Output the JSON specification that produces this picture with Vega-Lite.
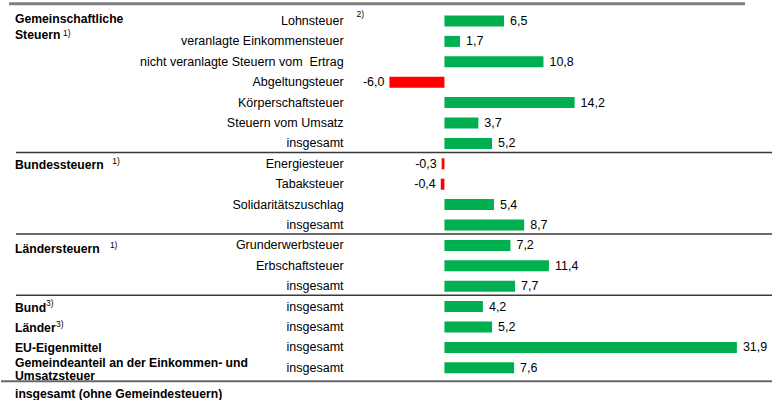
{
  "$schema": "https://vega.github.io/schema/vega-lite/v6.json",
  "width": 778,
  "height": 400,
  "autosize": {"type": "fit", "contains": "padding"},
  "padding": 0,
  "background": "white",
  "config": {
    "view": {"stroke": null},
    "text": {"font": "Liberation Sans", "fontSize": 12, "color": "#000000"}
  },
  "datasets": {
    "rows": [
      {"key": "Gemeinschaftliche Steuern – Lohnsteuer", "item": "Lohnsteuer", "value": 6.5, "label": "6,5"},
      {"key": "Gemeinschaftliche Steuern – veranlagte Einkommensteuer", "item": "veranlagte Einkommensteuer", "value": 1.7, "label": "1,7"},
      {"key": "Gemeinschaftliche Steuern – nicht veranlagte Steuern vom Ertrag", "item": "nicht veranlagte Steuern vom\u00a0 Ertrag", "value": 10.8, "label": "10,8"},
      {"key": "Gemeinschaftliche Steuern – Abgeltungsteuer", "item": "Abgeltungsteuer", "value": -6.0, "label": "-6,0"},
      {"key": "Gemeinschaftliche Steuern – Körperschaftsteuer", "item": "Körperschaftsteuer", "value": 14.2, "label": "14,2"},
      {"key": "Gemeinschaftliche Steuern – Steuern vom Umsatz", "item": "Steuern vom Umsatz", "value": 3.7, "label": "3,7"},
      {"key": "Gemeinschaftliche Steuern – insgesamt", "item": "insgesamt", "value": 5.2, "label": "5,2"},
      {"key": "Bundessteuern – Energiesteuer", "item": "Energiesteuer", "value": -0.3, "label": "-0,3"},
      {"key": "Bundessteuern – Tabaksteuer", "item": "Tabaksteuer", "value": -0.4, "label": "-0,4"},
      {"key": "Bundessteuern – Solidaritätszuschlag", "item": "Solidaritätszuschlag", "value": 5.4, "label": "5,4"},
      {"key": "Bundessteuern – insgesamt", "item": "insgesamt", "value": 8.7, "label": "8,7"},
      {"key": "Ländersteuern – Grunderwerbsteuer", "item": "Grunderwerbsteuer", "value": 7.2, "label": "7,2"},
      {"key": "Ländersteuern – Erbschaftsteuer", "item": "Erbschaftsteuer", "value": 11.4, "label": "11,4"},
      {"key": "Ländersteuern – insgesamt", "item": "insgesamt", "value": 7.7, "label": "7,7"},
      {"key": "Bund – insgesamt", "item": "insgesamt", "value": 4.2, "label": "4,2"},
      {"key": "Länder – insgesamt", "item": "insgesamt", "value": 5.2, "label": "5,2"},
      {"key": "EU-Eigenmittel – insgesamt", "item": "insgesamt", "value": 31.9, "label": "31,9"},
      {"key": "Gemeindeanteil – insgesamt", "item": "insgesamt", "value": 7.6, "label": "7,6"}
    ]
  },
  "layer": [
    {
      "data": {"name": "rows"},
      "mark": {"type": "bar", "height": {"band": 0.54}},
      "encoding": {
        "y": {
          "field": "key", "type": "nominal", "sort": null, "axis": null,
          "scale": {
            "domain": [
              "Gemeinschaftliche Steuern – Lohnsteuer",
              "Gemeinschaftliche Steuern – veranlagte Einkommensteuer",
              "Gemeinschaftliche Steuern – nicht veranlagte Steuern vom Ertrag",
              "Gemeinschaftliche Steuern – Abgeltungsteuer",
              "Gemeinschaftliche Steuern – Körperschaftsteuer",
              "Gemeinschaftliche Steuern – Steuern vom Umsatz",
              "Gemeinschaftliche Steuern – insgesamt",
              "Bundessteuern – Energiesteuer",
              "Bundessteuern – Tabaksteuer",
              "Bundessteuern – Solidaritätszuschlag",
              "Bundessteuern – insgesamt",
              "Ländersteuern – Grunderwerbsteuer",
              "Ländersteuern – Erbschaftsteuer",
              "Ländersteuern – insgesamt",
              "Bund – insgesamt",
              "Länder – insgesamt",
              "EU-Eigenmittel – insgesamt",
              "Gemeindeanteil – insgesamt",
              "insgesamt (ohne Gemeindesteuern)"
            ],
            "range": [10.8, 398.4], "paddingInner": 0, "paddingOuter": 0
          }
        },
        "x": {"field": "value", "type": "quantitative", "axis": null, "scale": {"domain": [-48.366, 36.383], "nice": false, "zero": false}},
        "x2": {"datum": 0},
        "color": {"condition": {"test": "datum.value < 0", "value": "#ff0000"}, "value": "#00b050"}
      }
    },
    {
      "data": {"name": "rows"},
      "mark": {"type": "text", "align": "right", "baseline": "middle", "font": "Liberation Sans", "fontSize": 12.5},
      "encoding": {
        "y": {"field": "key", "type": "nominal", "sort": null, "axis": null},
        "x": {"datum": -11.0, "type": "quantitative"},
        "text": {"field": "item"}
      }
    },
    {
      "data": {"name": "rows"},
      "transform": [{"filter": "datum.value >= 0"}],
      "mark": {"type": "text", "align": "left", "baseline": "middle", "dx": 6, "font": "Liberation Sans", "fontSize": 12.5},
      "encoding": {
        "y": {"field": "key", "type": "nominal", "sort": null, "axis": null},
        "x": {"field": "value", "type": "quantitative"},
        "text": {"field": "label"}
      }
    },
    {
      "data": {"name": "rows"},
      "transform": [{"filter": "datum.value < 0"}],
      "mark": {"type": "text", "align": "right", "baseline": "middle", "dx": -5, "font": "Liberation Sans", "fontSize": 12.5},
      "encoding": {
        "y": {"field": "key", "type": "nominal", "sort": null, "axis": null},
        "x": {"field": "value", "type": "quantitative"},
        "text": {"field": "label"}
      }
    },
    {
      "data": {"values": [
        {"key": "Bundessteuern – Energiesteuer", "label": "Bundessteuern"},
        {"key": "Bund – insgesamt", "label": "Bund"},
        {"key": "Länder – insgesamt", "label": "Länder"},
        {"key": "EU-Eigenmittel – insgesamt", "label": "EU-Eigenmittel"}
      ]},
      "mark": {"type": "text", "align": "left", "baseline": "middle", "dy": 1, "font": "Liberation Sans", "fontWeight": "bold", "fontSize": 12.2},
      "encoding": {
        "y": {"field": "key", "type": "nominal", "sort": null, "axis": null},
        "x": {"datum": -46.84, "type": "quantitative"},
        "text": {"field": "label"}
      }
    },
    {
      "data": {"values": [{"key": "Ländersteuern – Grunderwerbsteuer", "label": "Ländersteuern"}]},
      "mark": {"type": "text", "align": "left", "baseline": "middle", "dy": 3.5, "font": "Liberation Sans", "fontWeight": "bold", "fontSize": 12.2},
      "encoding": {
        "y": {"field": "key", "type": "nominal", "sort": null, "axis": null},
        "x": {"datum": -46.84, "type": "quantitative"},
        "text": {"field": "label"}
      }
    },
    {
      "data": {"values": [{"key": "Gemeinschaftliche Steuern – Lohnsteuer", "label": "Gemeinschaftliche\nSteuern"}]},
      "mark": {"type": "text", "align": "left", "baseline": "middle", "dy": -2.3, "lineBreak": "\n", "lineHeight": 16.5, "font": "Liberation Sans", "fontWeight": "bold", "fontSize": 12.2},
      "encoding": {
        "y": {"field": "key", "type": "nominal", "sort": null, "axis": null},
        "x": {"datum": -46.84, "type": "quantitative"},
        "text": {"field": "label"}
      }
    },
    {
      "data": {"values": [{"key": "Gemeindeanteil – insgesamt", "label": "Gemeindeanteil an der Einkommen- und\nUmsatzsteuer"}]},
      "mark": {"type": "text", "align": "left", "baseline": "middle", "dy": -4.9, "lineBreak": "\n", "lineHeight": 12.8, "font": "Liberation Sans", "fontWeight": "bold", "fontSize": 12.2},
      "encoding": {
        "y": {"field": "key", "type": "nominal", "sort": null, "axis": null},
        "x": {"datum": -46.84, "type": "quantitative"},
        "text": {"field": "label"}
      }
    },
    {
      "data": {"values": [{"key": "insgesamt (ohne Gemeindesteuern)", "label": "insgesamt (ohne Gemeindesteuern)"}]},
      "mark": {"type": "text", "align": "left", "baseline": "middle", "dy": 6, "font": "Liberation Sans", "fontWeight": "bold", "fontSize": 12.2},
      "encoding": {
        "y": {"field": "key", "type": "nominal", "sort": null, "axis": null},
        "x": {"datum": -46.84, "type": "quantitative"},
        "text": {"field": "label"}
      }
    },
    {
      "data": {"values": [{"key": "Gemeinschaftliche Steuern – Lohnsteuer", "t": "2)"}]},
      "mark": {"type": "text", "align": "left", "baseline": "middle", "dy": -7, "fontSize": 8.5, "font": "Liberation Sans"},
      "encoding": {
        "y": {"field": "key", "type": "nominal", "sort": null, "axis": null},
        "x": {"datum": -9.59, "type": "quantitative"},
        "text": {"field": "t"}
      }
    },
    {
      "data": {"values": [{"key": "Gemeinschaftliche Steuern – veranlagte Einkommensteuer", "t": "1)"}]},
      "mark": {"type": "text", "align": "left", "baseline": "middle", "dy": -8.5, "fontSize": 8.5, "font": "Liberation Sans"},
      "encoding": {
        "y": {"field": "key", "type": "nominal", "sort": null, "axis": null},
        "x": {"datum": -41.6, "type": "quantitative"},
        "text": {"field": "t"}
      }
    },
    {
      "data": {"values": [{"key": "Bundessteuern – Energiesteuer", "t": "1)"}]},
      "mark": {"type": "text", "align": "left", "baseline": "middle", "dy": -3, "fontSize": 8.5, "font": "Liberation Sans"},
      "encoding": {
        "y": {"field": "key", "type": "nominal", "sort": null, "axis": null},
        "x": {"datum": -36.22, "type": "quantitative"},
        "text": {"field": "t"}
      }
    },
    {
      "data": {"values": [{"key": "Ländersteuern – Grunderwerbsteuer", "t": "1)"}]},
      "mark": {"type": "text", "align": "left", "baseline": "middle", "dy": -0.5, "fontSize": 8.5, "font": "Liberation Sans"},
      "encoding": {
        "y": {"field": "key", "type": "nominal", "sort": null, "axis": null},
        "x": {"datum": -36.49, "type": "quantitative"},
        "text": {"field": "t"}
      }
    },
    {
      "data": {"values": [{"key": "Bund – insgesamt", "t": "3)"}]},
      "mark": {"type": "text", "align": "left", "baseline": "middle", "dy": -3.5, "fontSize": 8.5, "font": "Liberation Sans"},
      "encoding": {
        "y": {"field": "key", "type": "nominal", "sort": null, "axis": null},
        "x": {"datum": -43.46, "type": "quantitative"},
        "text": {"field": "t"}
      }
    },
    {
      "data": {"values": [{"key": "Länder – insgesamt", "t": "3)"}]},
      "mark": {"type": "text", "align": "left", "baseline": "middle", "dy": -3.5, "fontSize": 8.5, "font": "Liberation Sans"},
      "encoding": {
        "y": {"field": "key", "type": "nominal", "sort": null, "axis": null},
        "x": {"datum": -42.37, "type": "quantitative"},
        "text": {"field": "t"}
      }
    },
    {
      "data": {"values": [
        {"key": "Bundessteuern – Energiesteuer"},
        {"key": "Ländersteuern – Grunderwerbsteuer"},
        {"key": "Bund – insgesamt"}
      ]},
      "mark": {"type": "rule", "color": "#3a3a3a", "strokeWidth": 1.5, "yOffset": -1.2},
      "encoding": {
        "y": {"field": "key", "type": "nominal", "sort": null, "axis": null, "bandPosition": 0},
        "x": {"datum": -46.73, "type": "quantitative"},
        "x2": {"datum": 35.73}
      }
    },
    {
      "data": {"values": [{"key": "insgesamt (ohne Gemeindesteuern)"}]},
      "mark": {"type": "rule", "color": "#666666", "strokeWidth": 2, "yOffset": 3.3},
      "encoding": {
        "y": {"field": "key", "type": "nominal", "sort": null, "axis": null, "bandPosition": 0},
        "x": {"datum": -48.366, "type": "quantitative"},
        "x2": {"datum": 35.73}
      }
    },
    {
      "data": {"values": [{"key": "Gemeinschaftliche Steuern – Lohnsteuer"}]},
      "mark": {"type": "rule", "color": "#808080", "strokeWidth": 3, "yOffset": -7},
      "encoding": {
        "y": {"field": "key", "type": "nominal", "sort": null, "axis": null, "bandPosition": 0},
        "x": {"datum": -47.49, "type": "quantitative"},
        "x2": {"datum": 32.79}
      }
    },
    {
      "data": {"values": [{"key": "Gemeinschaftliche Steuern – Lohnsteuer"}]},
      "mark": {"type": "rule", "color": "#999999", "strokeWidth": 1.2, "y2": 400},
      "encoding": {
        "x": {"datum": 0, "type": "quantitative"},
        "y": {"field": "key", "type": "nominal", "sort": null, "axis": null, "bandPosition": 0.06}
      }
    }
  ]
}
